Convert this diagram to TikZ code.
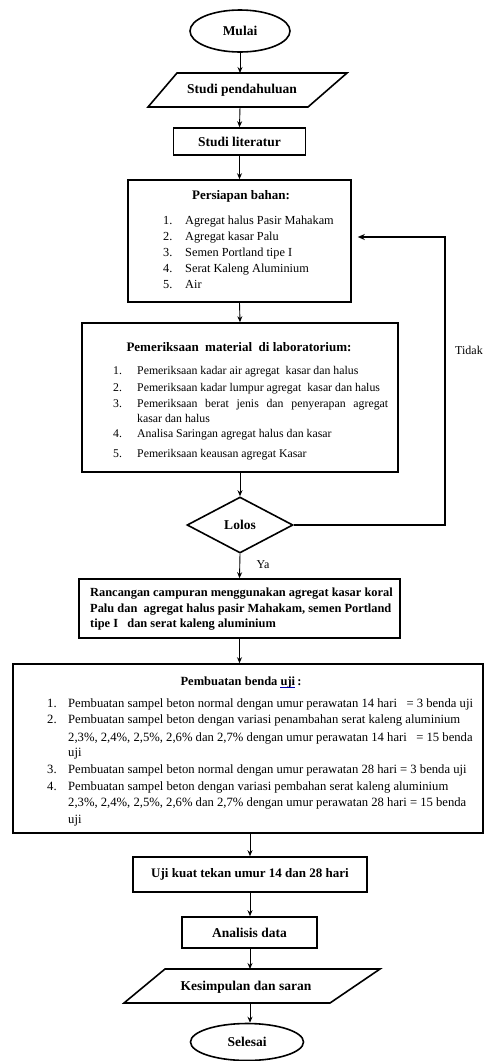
\documentclass[tikz,border=0pt]{standalone}
\usepackage{fontspec}
\setmainfont{Liberation Serif}
\usetikzlibrary{arrows.meta,shapes.geometric}
\tikzset{
 box/.style={draw, line width=1.6pt, rectangle, inner sep=0pt},
 ell/.style={draw, line width=1.6pt, ellipse, inner sep=0pt},
 shapeline/.style={line width=1.6pt, line join=miter},
 arr/.style={line width=0.9pt, -{Stealth[length=6pt,width=5pt]}},
 fbline/.style={line width=1.4pt, -{Stealth[length=7pt,width=6pt]}},
 lbl/.style={font=\fontsize{13.5}{16}\selectfont\bfseries, inner sep=0pt},
 ttl/.style={font=\fontsize{13}{16}\selectfont\bfseries, inner sep=0pt},
 itm/.style={font=\fontsize{12.3}{15}\selectfont, inner sep=0pt, anchor=base west},
 itms/.style={font=\fontsize{11.8}{14}\selectfont, inner sep=0pt, anchor=base west},
 itmb/.style={font=\fontsize{12.65}{15}\selectfont, inner sep=0pt, anchor=base west},
 rtx/.style={font=\fontsize{12.4}{15}\selectfont\bfseries, inner sep=0pt, anchor=base west},
 side/.style={font=\fontsize{12}{14}\selectfont, inner sep=0pt},
}
\begin{document}
\begin{tikzpicture}[x=1pt,y=-1pt]
\useasboundingbox (0,0) rectangle (491,1061);

% Mulai
\node[ell, minimum width=100pt, minimum height=42pt, lbl] (mulai) at (240,31) {Mulai};

% Studi pendahuluan
\draw[shapeline] (148,107) -- (177,73) -- (347,73) -- (308,107) -- cycle;
\node[lbl] (sp) at (242,90) {Studi pendahuluan};
\coordinate (spt) at (240,73);
\coordinate (spb) at (240,107);

% Studi literatur
\node[box, minimum width=132pt, minimum height=27pt, lbl] (lit) at (239.5,141.5) {Studi literatur};

% Persiapan bahan
\node[box, minimum width=223pt, minimum height=122pt] (per) at (239.5,241) {};
\node[ttl] (perT) at (241,196) {Persiapan bahan:};
\node[itm] (per1n) at (163,224) {1.};
\node[itm] (per1) at (185,224) {Agregat halus Pasir Mahakam};
\node[itm] (per2n) at (163,240) {2.};
\node[itm] (per2) at (185,240) {Agregat kasar Palu};
\node[itm] (per3n) at (163,256) {3.};
\node[itm] (per3) at (185,256) {Semen Portland tipe I};
\node[itm] (per4n) at (163,272) {4.};
\node[itm] (per4) at (185,272) {Serat Kaleng Aluminium};
\node[itm] (per5n) at (163,288) {5.};
\node[itm] (per5) at (185,288) {Air};

% Pemeriksaan material
\node[box, minimum width=316pt, minimum height=149pt] (pem) at (240,397.5) {};
\node[ttl] (pemT) at (239,347) {Pemeriksaan\ \ material\ \ di laboratorium:};
\node[itms] (pem1n) at (113,374) {1.};
\node[itms] (pem1) at (137,374) {Pemeriksaan kadar air agregat\ \ kasar dan halus};
\node[itms] (pem2n) at (113,391) {2.};
\node[itms] (pem2) at (137,391) {Pemeriksaan kadar lumpur agregat\ \ kasar dan halus};
\node[itms] (pem3n) at (113,407) {3.};
\node[itms] (pem3) at (137,407) {\makebox[251pt][s]{Pemeriksaan berat jenis dan penyerapan agregat}};
\node[itms] (pem3b) at (137,422) {kasar dan halus};
\node[itms] (pem4n) at (113,437) {4.};
\node[itms] (pem4) at (137,437) {Analisa Saringan agregat halus dan kasar};
\node[itms] (pem5n) at (113,457) {5.};
\node[itms] (pem5) at (137,457) {Pemeriksaan keausan agregat Kasar};

% Lolos
\node[draw, shapeline, diamond, minimum width=106pt, minimum height=56pt, inner sep=0pt, lbl] (lolos) at (240,525) {Lolos};
\node[side] (ya) at (263,565) {Ya};
\node[side] (tidak) at (469,350) {Tidak};
\coordinate (fb) at (445,237);

% Rancangan
\node[box, minimum width=321pt, minimum height=59pt] (ran) at (239.5,608.5) {};
\node[rtx] (ran1) at (90,596) {Rancangan campuran menggunakan agregat kasar koral};
\node[rtx] (ran2) at (90,612) {Palu dan\ \ agregat halus pasir Mahakam, semen Portland};
\node[rtx] (ran3) at (90,627) {tipe I\ \ \ dan serat kaleng aluminium};

% Pembuatan benda uji
\node[box, minimum width=470pt, minimum height=169pt] (pemb) at (248,748.5) {};
\node[font=\fontsize{12.5}{16}\selectfont\bfseries, inner sep=0pt] (pembT) at (241,682) {Pembuatan benda uji\rlap{\color{blue!70!black}\hspace{-15pt}\rule[-2.5pt]{15pt}{0.7pt}}\,:};
\node[itmb] (pb1n) at (47,707) {1.};
\node[itmb] (pb1) at (68,707) {Pembuatan sampel beton normal dengan umur perawatan 14 hari\ \ \ = 3 benda uji};
\node[itmb] (pb2n) at (47,723) {2.};
\node[itmb] (pb2) at (68,723) {Pembuatan sampel beton dengan variasi penambahan serat kaleng aluminium};
\node[itmb] (pb2b) at (68,741) {2,3\%, 2,4\%, 2,5\%, 2,6\% dan 2,7\% dengan umur perawatan 14 hari\ \ \ = 15 benda};
\node[itmb] (pb2c) at (68,756) {uji};
\node[itmb] (pb3n) at (47,773) {3.};
\node[itmb] (pb3) at (68,773) {Pembuatan sampel beton normal dengan umur perawatan 28 hari = 3 benda uji};
\node[itmb] (pb4n) at (47,790) {4.};
\node[itmb] (pb4) at (68,790) {Pembuatan sampel beton dengan variasi pembahan serat kaleng aluminium};
\node[itmb] (pb4b) at (68,806) {2,3\%, 2,4\%, 2,5\%, 2,6\% dan 2,7\% dengan umur perawatan 28 hari = 15 benda};
\node[itmb] (pb4c) at (68,823) {uji};

% Uji kuat tekan
\node[box, minimum width=234pt, minimum height=35pt, font=\fontsize{13}{16}\selectfont\bfseries] (uji) at (250,874.5) {Uji kuat tekan umur 14 dan 28 hari};

% Analisis data
\node[box, minimum width=135pt, minimum height=31pt, lbl] (ana) at (249.5,932.5) {Analisis data};

% Kesimpulan dan saran
\draw[shapeline] (124,1003) -- (165,969) -- (380,969) -- (330,1003) -- cycle;
\node[lbl] (kes) at (246,987) {Kesimpulan dan saran};
\coordinate (kest) at (250,969);
\coordinate (kesb) at (250,1003);

% Selesai
\node[ell, minimum width=113pt, minimum height=37pt, lbl] (sel) at (247,1042) {Selesai};

% connectors
\draw[arr] (mulai.south) -- (spt);
\draw[arr] (spb) -- (lit.north);
\draw[arr] (lit.south) -- (per.north);
\draw[arr] (per.south) -- (pem.north);
\draw[arr] (pem.south) -- (lolos.north);
\draw[arr] (lolos.south) -- (ran.north);
\draw[arr] (ran.south) -- (ran.south |- pemb.north);
\draw[arr] (pemb.south -| uji.north) -- (uji.north);
\draw[arr] (uji.south) -- (ana.north -| uji.south);
\draw[arr] (ana.south -| uji.south) -- (kest);
\draw[arr] (kesb) -- (sel.north -| kesb);
\draw[fbline, shorten >=6pt] (lolos.east) -| (fb) -- (per.east |- fb);
\end{tikzpicture}
\end{document}
